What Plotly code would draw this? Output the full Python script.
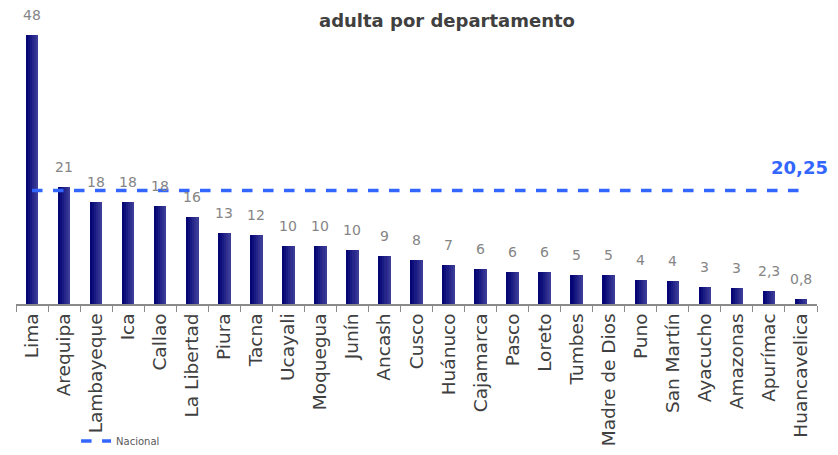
import plotly.graph_objects as go

departamentos = ["Lima", "Arequipa", "Lambayeque", "Ica", "Callao", "La Libertad", "Piura",
                 "Tacna", "Ucayali", "Moquegua", "Junín", "Ancash", "Cusco", "Huánuco",
                 "Cajamarca", "Pasco", "Loreto", "Tumbes", "Madre de Dios", "Puno",
                 "San Martín", "Ayacucho", "Amazonas", "Apurímac", "Huancavelica"]
valores = [48, 20.9, 18.2, 18.2, 17.5, 15.5, 12.7, 12.3, 10.4, 10.4, 9.6, 8.6, 7.9, 7.0,
           6.3, 5.8, 5.7, 5.1, 5.1, 4.3, 4.1, 3.1, 2.9, 2.3, 0.9]
etiquetas = ["48", "21", "18", "18", "18", "16", "13", "12", "10", "10", "10", "9", "8", "7",
             "6", "6", "6", "5", "5", "4", "4", "3", "3", "2,3", "0,8"]
nacional = 20.25
nacional_txt = "20,25"

# the page body adds 8px around the div, so the figure is 16px smaller than the window
W, H = 822, 439

fig = go.Figure()

ancho = 0.39
# thin strips side by side to fake the left-to-right gradient of the bars
tonos = ["#050575", "#0f0f7c", "#1a1a83", "#25258a", "#303091", "#3b3b98"]
franja = ancho / len(tonos)
for i, c in enumerate(tonos):
    fig.add_trace(go.Bar(x=departamentos, y=valores, width=franja * 1.02, offset=-ancho / 2 + i * franja,
                         marker=dict(color=c, line=dict(width=0)), showlegend=False, hoverinfo="x+y"))

fig.add_trace(go.Scatter(x=departamentos, y=[nacional] * len(departamentos), mode="lines",
                         name="Nacional", line=dict(color="#3366ff", width=3.5, dash="dash")))

# value labels sit a little higher than plotly's own outside text
for d, v, t in zip(departamentos, valores, etiquetas):
    fig.add_annotation(x=d, y=v, text=t, showarrow=False, yanchor="bottom", yshift=10,
                       font=dict(family="DejaVu Sans", size=14, color="#858585"))

fig.add_annotation(x=departamentos[-1], y=nacional, text="<b>" + nacional_txt + "</b>", showarrow=False,
                   xanchor="center", xshift=-1, yshift=23,
                   font=dict(family="DejaVu Sans", size=18, color="#3366ff"))

fig.add_annotation(x=0.538, y=1, xref="paper", yref="paper", yanchor="top", showarrow=False,
                   text="<b>adulta por departamento</b>",
                   font=dict(family="DejaVu Sans", size=18, color="#404040"))

fig.update_layout(
    width=W, height=H, barmode="overlay", bargap=0,
    paper_bgcolor="white", plot_bgcolor="white",
    margin=dict(l=8, r=13, t=0, b=143, autoexpand=False),
    font=dict(family="DejaVu Sans"),
    legend=dict(orientation="h", x=0.075, y=-0.463, yanchor="middle", xanchor="left",
                font=dict(size=10, color="#595959"), bgcolor="rgba(0,0,0,0)"),
    xaxis=dict(tickangle=-90, tickfont=dict(size=18.5, color="#404040"), showline=True,
               range=[-0.5, len(departamentos) - 0.5],
               linecolor="#8a8a8a", linewidth=2, ticks="outside", tickson="boundaries",
               tickcolor="#8a8a8a", ticklen=6, showgrid=False, automargin=False),
    yaxis=dict(range=[0, 52.86], visible=False, showgrid=False, automargin=False),
)

fig.write_html("out.html")
